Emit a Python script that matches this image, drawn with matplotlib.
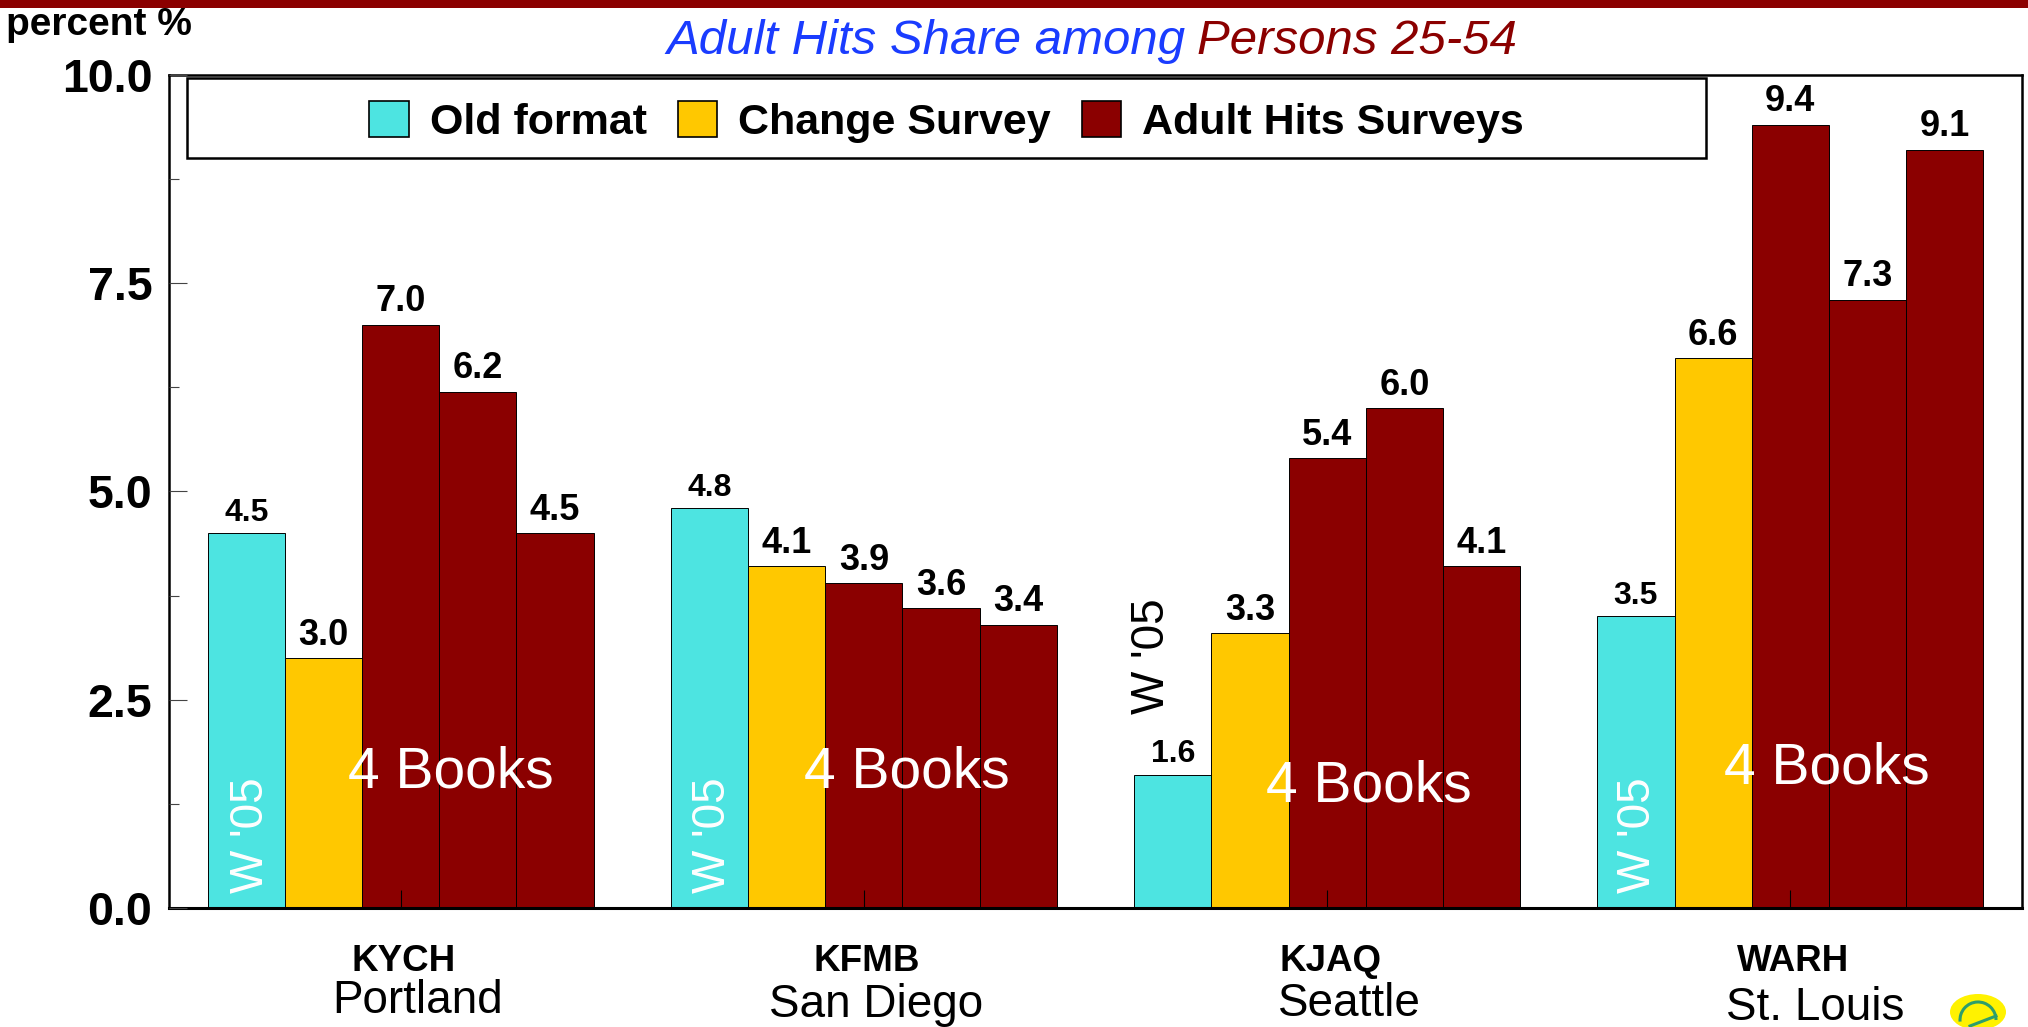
import matplotlib
matplotlib.use("Agg")
import matplotlib.pyplot as plt
import numpy as np
from matplotlib.patches import Arc, Ellipse, Rectangle
from matplotlib.lines import Line2D
from matplotlib.transforms import ScaledTranslation

plt.rcParams["font.family"] = ["Liberation Sans", "DejaVu Sans"]

W, H = 2028, 1027

stations = ["KYCH", "KFMB", "KJAQ", "WARH"]
cities = ["Portland", "San Diego", "Seattle", "St. Louis"]
series_names = ["Old format", "Change Survey", "Adult Hits Surveys"]
old_format = [4.5, 4.8, 1.6, 3.5]
change_survey = [3.0, 4.1, 3.3, 6.6]
adult_hits_1 = [7.0, 3.9, 5.4, 9.4]
adult_hits_2 = [6.2, 3.6, 6.0, 7.3]
adult_hits_3 = [4.5, 3.4, 4.1, 9.1]
ytick_labels = ["0.0", "2.5", "5.0", "7.5", "10.0"]

CYAN, GOLD, RED = "#4DE4E1", "#FFC800", "#8B0000"
BLUE = "#1A3CFF"


def fx(x):
    return x / W


def fy(y):
    return 1 - y / H


fig = plt.figure(figsize=(W / 100, H / 100), dpi=100)
ax = fig.add_axes([fx(169), fy(908), fx(2022 - 169), fy(75) - fy(908)])

x = np.arange(len(stations))
w = 1 / 6
columns = [old_format, change_survey, adult_hits_1, adult_hits_2, adult_hits_3]
colors = [CYAN, GOLD, RED, RED, RED]
for i, (vals, c) in enumerate(zip(columns, colors)):
    ax.bar(x + (i - 2) * w, vals, w, color=c, edgecolor="black", lw=0.7, zorder=2)
    for xx, v in zip(x + (i - 2) * w, vals):
        ax.annotate(f"{v:.1f}", (xx, v), xytext=(0, 4), textcoords="offset points",
                    ha="center", va="bottom", fontweight="bold",
                    fontsize=23 if i == 0 else 26, zorder=4)

ax.set_xlim(-0.5, 3.5)
ax.set_ylim(0, 10)
ax.set_yticks([0, 2.5, 5, 7.5, 10])
ax.set_yticklabels(ytick_labels, fontsize=33.5, fontweight="bold")
ax.set_yticks([1.25, 3.75, 6.25, 8.75], minor=True)
ax.tick_params(axis="y", which="major", direction="in", length=13, width=0.8, pad=12, color="#444444")
ax.tick_params(axis="y", which="minor", direction="in", length=7, width=0.8, color="#444444")
ax.set_xticks(x)
ax.set_xticklabels(stations, fontsize=26.5, fontweight="bold")
ax.tick_params(axis="x", direction="in", length=13, width=0.8, pad=26)
shift = ScaledTranslation(3 / 100, 0, fig.dpi_scale_trans)
for lab in ax.get_xticklabels():
    lab.set_transform(lab.get_transform() + shift)
for s in ax.spines.values():
    s.set_linewidth(1.8)
ax.spines["bottom"].set_linewidth(2.2)
ax.set_axisbelow(False)

# legend frame and entries
frame_l, frame_r, frame_t, frame_b = 187, 1706, 78, 158
ax.add_patch(Rectangle((fx(frame_l), fy(frame_b)), fx(frame_r - frame_l), fy(frame_t) - fy(frame_b),
                       transform=fig.transFigure, fc="white", ec="black", lw=1.8, zorder=6))
handles = [Rectangle((0, 0), 1, 1, fc=c, ec="black", lw=1.2) for c in (CYAN, GOLD, RED)]
leg = fig.legend(handles, series_names, ncol=3, frameon=False, loc="center",
                 bbox_to_anchor=(fx((frame_l + frame_r) / 2), fy((frame_t + frame_b) / 2 + 4)),
                 prop={"weight": "bold", "size": 31}, handlelength=0.92, handleheight=0.92,
                 handletextpad=0.48, columnspacing=0.72)
leg.set_zorder(7)

# annotations inside the plot
for cx, cy in [(451, 772), (907, 772), (1369, 786), (1827, 769)]:
    fig.text(fx(cx), fy(cy), "4 Books", color="white", fontsize=41, ha="center", va="center", zorder=8)
for cx in [251, 713, 1638]:
    fig.text(fx(cx), fy(835), "W '05", color="white", fontsize=33, rotation=90,
             ha="center", va="center", zorder=8)
fig.text(fx(1152), fy(656), "W '05", color="black", fontsize=33, rotation=90,
         ha="center", va="center", zorder=8)

# city names under the stations
for name, cx, cy in zip(cities, [418, 876, 1349, 1815], [1001, 1005, 1004, 1008]):
    fig.text(fx(cx), fy(cy), name, fontsize=33, ha="center", va="center")

# titles
fig.text(fx(6), fy(25), "percent %", fontsize=28, fontweight="bold", ha="left", va="center", zorder=9)
fig.text(fx(666), fy(54), "Adult Hits Share among", color=BLUE, fontsize=35.4, style="italic", ha="left", va="baseline")
fig.text(fx(1197), fy(54), "Persons 25-54", color=RED, fontsize=35.4, style="italic", ha="left", va="baseline")

# top band, over the clipped top of the unit label
fig.add_artist(Rectangle((0, fy(8)), 1, 8 / H, transform=fig.transFigure, color=RED, lw=0, zorder=10))

# small logo, bottom right
fig.add_artist(Ellipse((fx(1978), fy(1012)), fx(56), 36 / H, transform=fig.transFigure, color="#FFF200", lw=0))
fig.add_artist(Arc((fx(1978), fy(1020)), fx(36), 36 / H, theta1=0, theta2=190,
                   transform=fig.transFigure, color="#2E9E6B", lw=2.2))
fig.add_artist(Line2D([fx(1996), fx(1970)], [fy(1016), fy(1026)], transform=fig.transFigure,
                      color="#2E9E6B", lw=2.2))
fig.savefig("out.png", dpi=100)
